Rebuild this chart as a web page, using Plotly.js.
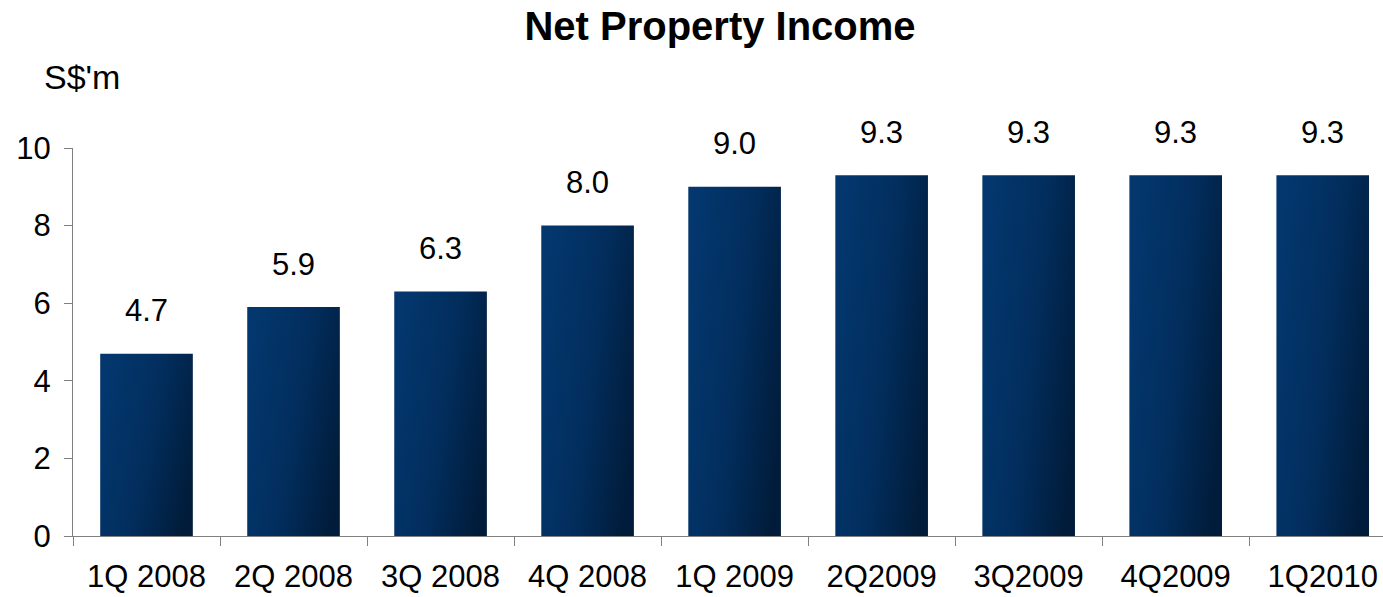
<!DOCTYPE html>
<html>
<head>
<meta charset="utf-8">
<script src="https://cdn.plot.ly/plotly-3.0.1.min.js"></script>
<style>html,body{margin:0;padding:0;background:#fff;}#chart{width:1383px;height:597px;}</style>
</head>
<body>
<div id="chart"></div>
<script>
const categories = ["1Q 2008", "2Q 2008", "3Q 2008", "4Q 2008", "1Q 2009", "2Q2009", "3Q2009", "4Q2009", "1Q2010"];
const values = [4.7, 5.9, 6.3, 8.0, 9.0, 9.3, 9.3, 9.3, 9.3];
const valueLabels = ["4.7", "5.9", "6.3", "8.0", "9.0", "9.3", "9.3", "9.3", "9.3"];
const yTicks = [0, 2, 4, 6, 8, 10];

const FONT = "Liberation Sans, Arial, sans-serif";
const W = 1383, H = 597, L = 73, R = 0, T = 148, B = 61;
const plotW = W - L - R, plotH = H - T - B;

const trace = {
  type: "bar",
  x: categories,
  y: values,
  width: 0.63,
  marker: { color: "#022c5c", line: { width: 0 } },
  hoverinfo: "skip"
};

const annotations = values.map((v, i) => ({
  x: categories[i], y: v, xref: "x", yref: "y",
  text: valueLabels[i], showarrow: false,
  xanchor: "center", yanchor: "middle", yshift: 43,
  font: { family: FONT, size: 31, color: "#000" }
}));
annotations.push({
  xref: "paper", yref: "paper",
  x: (42 - L) / plotW, y: (H - B - 77) / plotH,
  xanchor: "left", yanchor: "middle",
  text: "S$'m", showarrow: false,
  font: { family: FONT, size: 34, color: "#000" }
});

const layout = {
  width: W, height: H,
  margin: { l: L, r: R, t: T, b: B, pad: 0 },
  paper_bgcolor: "#fff", plot_bgcolor: "#fff",
  showlegend: false,
  title: {
    text: "<b>Net Property Income</b>",
    x: 720 / W, xref: "container", xanchor: "center",
    y: 1 - 26 / H, yref: "container", yanchor: "middle",
    font: { family: FONT, size: 40, color: "#000" }
  },
  xaxis: {
    type: "category",
    range: [-0.5, 8.41],
    tickson: "boundaries",
    ticks: "outside", ticklen: 9, tickcolor: "#808080", tickwidth: 1,
    showline: true, linecolor: "#808080", linewidth: 1,
    showgrid: false, zeroline: false,
    ticklabelstandoff: 13,
    tickangle: 0,
    tickfont: { family: FONT, size: 31, color: "#000" },
    fixedrange: true
  },
  yaxis: {
    range: [0, 10],
    tickmode: "array", tickvals: yTicks,
    ticks: "outside", ticklen: 8, tickcolor: "#808080", tickwidth: 1,
    showline: true, linecolor: "#808080", linewidth: 1,
    showgrid: false, zeroline: false,
    ticklabelstandoff: 7,
    tickfont: { family: FONT, size: 31, color: "#000" },
    fixedrange: true
  },
  annotations: annotations,
  hovermode: false
};

Plotly.newPlot("chart", [trace], layout, { displayModeBar: false, staticPlot: true }).then(gd => {
  const svg = gd.querySelector("svg.main-svg");
  const ns = "http://www.w3.org/2000/svg";
  let defs = svg.querySelector("defs");
  if (!defs) { defs = document.createElementNS(ns, "defs"); svg.insertBefore(defs, svg.firstChild); }
  const g = document.createElementNS(ns, "linearGradient");
  g.setAttribute("id", "barGrad");
  g.setAttribute("x1", "0"); g.setAttribute("y1", "0.3");
  g.setAttribute("x2", "1"); g.setAttribute("y2", "0.7");
  [["0", "#03376d"], ["0.5", "#022e5e"], ["1", "#011c3a"]].forEach(([o, c]) => {
    const s = document.createElementNS(ns, "stop");
    s.setAttribute("offset", o); s.setAttribute("stop-color", c);
    g.appendChild(s);
  });
  defs.appendChild(g);
  gd.querySelectorAll(".bars .point path").forEach(p => { p.style.fill = "url(#barGrad)"; });
});
</script>
</body>
</html>
